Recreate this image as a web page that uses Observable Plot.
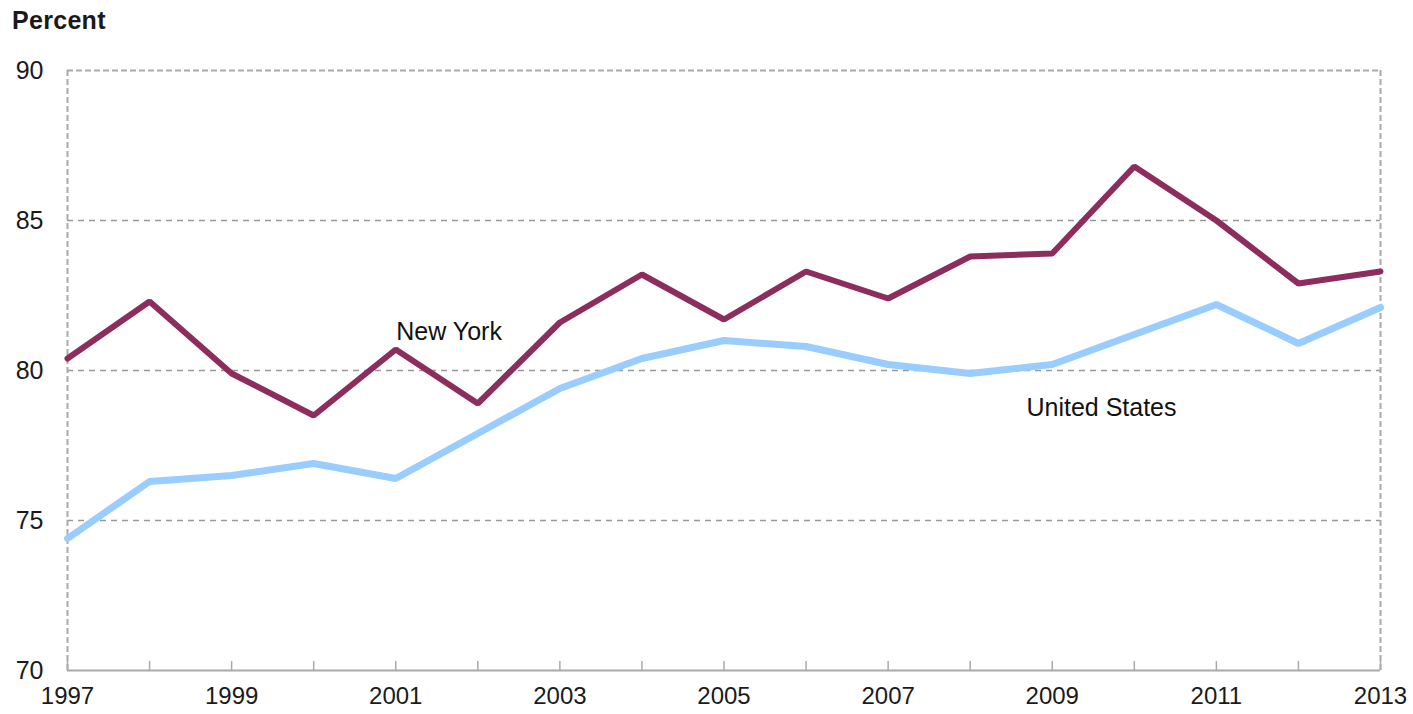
<!DOCTYPE html>
<html>
<head>
<meta charset="utf-8">
<script src="https://cdn.jsdelivr.net/npm/d3@7"></script>
<script src="https://cdn.jsdelivr.net/npm/@observablehq/plot@0.6"></script>
<style>
  body { margin: 0; background: #fff; font-family: Arial, "Liberation Sans", sans-serif; }
  #wrap { position: relative; width: 1413px; height: 714px; }
  #title { position: absolute; left: 12px; top: 6px; font-size: 25px; font-weight: bold; color: #1a1a1a; letter-spacing: 0.3px; }
</style>
</head>
<body>
<div id="wrap"><div id="title">Percent</div></div>
<script>
const years = [1997,1998,1999,2000,2001,2002,2003,2004,2005,2006,2007,2008,2009,2010,2011,2012,2013];
const newYork = [80.4,82.3,79.9,78.5,80.7,78.9,81.6,83.2,81.7,83.3,82.4,83.8,83.9,86.8,85.0,82.9,83.3];
const unitedStates = [74.4,76.3,76.5,76.9,76.4,77.9,79.4,80.4,81.0,80.8,80.2,79.9,80.2,81.2,82.2,80.9,82.1];
const xTicks = [1997,1999,2001,2003,2005,2007,2009,2011,2013];
const yTicks = [70,75,80,85,90];
const gridLines = [75,80,85];
const seriesLabels = [
  {name: "New York", x: 2001.65, y: 81.3},
  {name: "United States", x: 2009.6, y: 78.75}
];

const ny = years.map((y, i) => ({year: y, value: newYork[i]}));
const us = years.map((y, i) => ({year: y, value: unitedStates[i]}));

const chart = Plot.plot({
  width: 1413,
  height: 714,
  marginLeft: 67,
  marginRight: 33,
  marginTop: 70,
  marginBottom: 44,
  style: {fontFamily: "Arial, 'Liberation Sans', sans-serif", fontSize: "25px", color: "#1a1a1a", background: "transparent"},
  x: {domain: [1997, 2013]},
  y: {domain: [70, 90]},
  marks: [
    Plot.ruleY(gridLines, {stroke: "#999", strokeWidth: 1.5, strokeDasharray: "6,5"}),
    Plot.ruleY([90], {stroke: "#aaa", strokeWidth: 2, strokeDasharray: "6,3"}),
    Plot.ruleX([1997, 2013], {stroke: "#aaa", strokeWidth: 2, strokeDasharray: "6,3"}),
    Plot.ruleY([70], {stroke: "#aaa", strokeWidth: 2}),
    Plot.ruleX(years, {y1: 70, y2: 70.3, stroke: "#aaa", strokeWidth: 1.5}),
    Plot.line(us, {x: "year", y: "value", stroke: "#99ccff", strokeWidth: 7, strokeLinejoin: "miter"}),
    Plot.line(ny, {x: "year", y: "value", stroke: "#8c2d5d", strokeWidth: 6, strokeLinejoin: "miter"}),
    Plot.text(seriesLabels, {x: "x", y: "y", text: "name", fontSize: 25, fill: "#111", style: "letter-spacing: 0.6px"}),
    Plot.axisX({ticks: xTicks, tickFormat: d => String(d), tickSize: 0, tickPadding: 16, fontSize: 24}),
    Plot.axisY({ticks: yTicks, tickSize: 0, tickPadding: 24, fontSize: 25})
  ]
});
document.getElementById("wrap").appendChild(chart);
</script>
</body>
</html>
